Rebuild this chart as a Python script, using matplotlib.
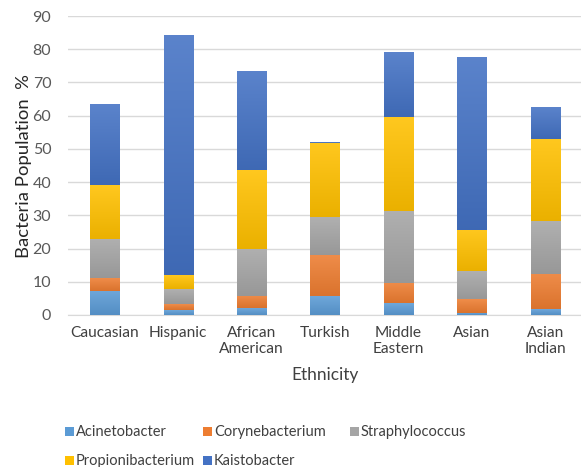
import numpy as np
import matplotlib
matplotlib.use("Agg")
import matplotlib.pyplot as plt
from matplotlib.colors import to_rgb
from matplotlib.patches import Rectangle

# Data (percent of bacterial population by ethnicity)
ethnicities = ["Caucasian", "Hispanic", "African\nAmerican", "Turkish",
               "Middle\nEastern", "Asian", "Asian\nIndian"]
acinetobacter = [7.3, 1.4, 2.0, 5.7, 3.6, 0.7, 1.7]
corynebacterium = [3.7, 1.8, 3.7, 12.5, 6.1, 4.1, 10.6]
staphylococcus = [11.9, 4.5, 14.2, 11.3, 21.7, 8.4, 15.9]
propionibacterium = [16.2, 4.2, 23.6, 22.4, 28.2, 12.4, 24.7]
kaistobacter = [24.1, 72.1, 29.7, 0.3, 19.3, 51.9, 9.6]

series_names = ["Acinetobacter", "Corynebacterium", "Straphylococcus",
                "Propionibacterium", "Kaistobacter"]
series_values = [acinetobacter, corynebacterium, staphylococcus,
                 propionibacterium, kaistobacter]
series_colors = ["#5B9BD5", "#ED7D31", "#A5A5A5", "#FFC000", "#4472C4"]

FONT = ["Lato", "DejaVu Sans"]
plt.rcParams["font.family"] = FONT

fig = plt.figure(figsize=(5.81, 4.67), dpi=100)
ax = fig.add_axes([68 / 581, 1 - 315 / 467, 514 / 581, 299 / 467])


def shade(color, f):
    c = np.array(to_rgb(color))
    if f >= 0:
        return c + (1 - c) * f
    return c * (1 + f)


def gradient_fill(patch, color):
    x, y = patch.get_x(), patch.get_y()
    w, h = patch.get_width(), patch.get_height()
    if h <= 0:
        return
    top = shade(color, 0.12)
    bot = shade(color, -0.08)
    t = np.linspace(0, 1, 64)[:, None]
    img = top[None, :] * (1 - t) + bot[None, :] * t
    img = np.repeat(img[:, None, :], 2, axis=1)
    ax.imshow(img, extent=[x, x + w, y, y + h], origin="upper",
              aspect="auto", zorder=2, interpolation="bilinear")


xpos = np.arange(len(ethnicities))
bottom = np.zeros(len(ethnicities))
for name, vals, col in zip(series_names, series_values, series_colors):
    bars = ax.bar(xpos, vals, width=0.395, bottom=bottom, color=col,
                  label=name, zorder=2, linewidth=0)
    for p in bars.patches:
        gradient_fill(p, col)
        p.set_facecolor("none")
    bottom += np.array(vals)

ax.set_xlim(-0.5, len(ethnicities) - 0.5)
ax.set_ylim(0, 90)
ax.set_yticks(np.arange(0, 91, 10))
ax.set_xticks(xpos)
ax.set_xticklabels(ethnicities, fontsize=11.2, color="#404040",
                   linespacing=1.2)
ax.tick_params(axis="y", length=0, pad=12, labelsize=11.5,
               labelcolor="#595959")
ax.tick_params(axis="x", length=0, pad=8)
ax.grid(axis="y", color="#d9d9d9", linewidth=1, zorder=0)
ax.set_axisbelow(True)
for s in ["top", "right", "left"]:
    ax.spines[s].set_visible(False)
ax.spines["bottom"].set_color("#d9d9d9")
ax.spines["bottom"].set_zorder(1)

ax.set_ylabel("Bacteria Population  %", fontsize=13.3, color="#262626",
              labelpad=4)
ax.yaxis.set_label_coords(-36 / 514, 0.5)
ax.set_xlabel("Ethnicity", fontsize=12.5, color="#404040", labelpad=8)

# Legend laid out in two rows
legend_rows = [
    [(0, 65), (1, 203), (2, 350)],
    [(3, 65), (4, 203)],
]
row_y = [432, 461]
for row, yy in zip(legend_rows, row_y):
    for idx, xx in row:
        fig.patches.append(Rectangle((xx / 581, 1 - (yy + 4) / 467),
                                     9 / 581, 9 / 467,
                                     transform=fig.transFigure,
                                     facecolor=series_colors[idx],
                                     edgecolor="none"))
        fig.text((xx + 11) / 581, 1 - yy / 467, series_names[idx],
                 fontsize=10.5, color="#404040", va="center", ha="left")

fig.savefig("out.png", dpi=100)
